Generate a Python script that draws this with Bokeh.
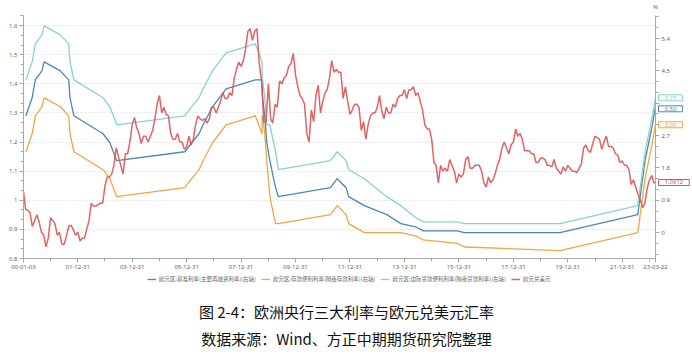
import pandas as pd
from bokeh.plotting import figure
from bokeh.models import (Range1d, LinearAxis, FixedTicker, DatetimeTickFormatter,
                          Legend, LegendItem, Label, BoxAnnotation)
from bokeh.embed import file_html
from bokeh.resources import INLINE

# ---------------- data ----------------
rate_dates = ["2000-02-04", "2000-03-17", "2000-04-28", "2000-06-09", "2000-09-06", "2000-10-06",
              "2001-05-11", "2001-08-31", "2001-09-18", "2001-11-09", "2002-12-06", "2003-03-07",
              "2003-06-06", "2005-12-06", "2006-03-08", "2006-06-15", "2006-08-09", "2006-10-11",
              "2006-12-13", "2007-03-14", "2007-06-13", "2008-07-09", "2008-10-08", "2008-10-09",
              "2008-10-15", "2008-11-12", "2008-12-10", "2009-01-21", "2009-03-11", "2009-04-08",
              "2009-05-13", "2011-04-13", "2011-07-13", "2011-11-09", "2011-12-14", "2012-07-11",
              "2013-05-08", "2013-11-13", "2014-06-11", "2014-09-10", "2015-12-09", "2016-03-16",
              "2019-09-18", "2022-07-27", "2022-09-14", "2022-11-02", "2022-12-21", "2023-02-08",
              "2023-03-22"]
mro = [3.25, 3.50, 3.75, 4.25, 4.50, 4.75, 4.50, 4.25, 3.75, 3.25, 2.75, 2.50, 2.00, 2.25, 2.50,
       2.75, 3.00, 3.25, 3.50, 3.75, 4.00, 4.25, 4.25, 4.25, 3.75, 3.25, 2.50, 2.00, 1.50, 1.25,
       1.00, 1.25, 1.50, 1.25, 1.00, 0.75, 0.50, 0.25, 0.15, 0.05, 0.05, 0.00, 0.00, 0.50, 1.25,
       2.00, 2.50, 3.00, 3.50]
deposit = [2.25, 2.50, 2.75, 3.25, 3.50, 3.75, 3.50, 3.25, 2.75, 2.25, 1.75, 1.50, 1.00, 1.25, 1.50,
           1.75, 2.00, 2.25, 2.50, 2.75, 3.00, 3.25, 2.75, 3.25, 3.25, 2.75, 2.00, 1.00, 0.50, 0.25,
           0.25, 0.50, 0.75, 0.50, 0.25, 0.00, 0.00, 0.00, -0.10, -0.20, -0.30, -0.40, -0.50, 0.00, 0.75,
           1.50, 2.00, 2.50, 3.00]
mlf = [4.25, 4.50, 4.75, 5.25, 5.50, 5.75, 5.50, 5.25, 4.75, 4.25, 3.75, 3.50, 3.00, 3.25, 3.50,
       3.75, 4.00, 4.25, 4.50, 4.75, 5.00, 5.25, 4.75, 4.25, 4.25, 3.75, 3.00, 3.00, 2.50, 2.25,
       1.75, 2.00, 2.25, 2.00, 1.75, 1.50, 1.00, 0.75, 0.40, 0.30, 0.30, 0.25, 0.25, 0.75, 1.50,
       2.25, 2.75, 3.25, 3.75]

# EUR/USD, month-end readings (2000-01 .. 2023-02), plus first and last day
fx_first = ("2000-01-03", 1.03)
fx_last = ("2023-03-22", 1.0612)
fx_monthly = [
    0.970, 0.965, 0.957, 0.910, 0.930, 0.950, 0.925, 0.890, 0.880, 0.840, 0.870, 0.940,   # 2000
    0.930, 0.920, 0.880, 0.890, 0.850, 0.848, 0.875, 0.910, 0.915, 0.900, 0.880, 0.890,   # 2001
    0.860, 0.870, 0.870, 0.900, 0.930, 0.990, 0.980, 0.980, 0.985, 0.990, 0.990, 1.050,   # 2002
    1.080, 1.080, 1.090, 1.120, 1.180, 1.150, 1.120, 1.090, 1.160, 1.160, 1.200, 1.260,   # 2003
    1.285, 1.250, 1.230, 1.195, 1.220, 1.220, 1.200, 1.220, 1.240, 1.280, 1.330, 1.360,   # 2004
    1.300, 1.320, 1.295, 1.290, 1.230, 1.210, 1.210, 1.230, 1.200, 1.200, 1.175, 1.185,   # 2005
    1.220, 1.190, 1.210, 1.260, 1.290, 1.280, 1.275, 1.280, 1.265, 1.280, 1.320, 1.320,   # 2006
    1.300, 1.320, 1.340, 1.370, 1.350, 1.350, 1.370, 1.360, 1.420, 1.450, 1.475, 1.460,   # 2007
    1.480, 1.520, 1.580, 1.590, 1.550, 1.580, 1.590, 1.470, 1.410, 1.270, 1.270, 1.400,   # 2008
    1.280, 1.265, 1.330, 1.320, 1.410, 1.400, 1.420, 1.430, 1.460, 1.470, 1.505, 1.430,   # 2009
    1.390, 1.360, 1.350, 1.330, 1.230, 1.200, 1.310, 1.270, 1.360, 1.395, 1.300, 1.340,   # 2010
    1.370, 1.380, 1.420, 1.480, 1.440, 1.450, 1.440, 1.440, 1.350, 1.390, 1.340, 1.295,   # 2011
    1.310, 1.330, 1.330, 1.320, 1.240, 1.270, 1.210, 1.260, 1.290, 1.300, 1.300, 1.320,   # 2012
    1.360, 1.310, 1.280, 1.320, 1.300, 1.300, 1.330, 1.320, 1.350, 1.360, 1.360, 1.380,   # 2013
    1.350, 1.380, 1.380, 1.390, 1.360, 1.370, 1.340, 1.310, 1.260, 1.245, 1.245, 1.210,   # 2014
    1.130, 1.120, 1.060, 1.120, 1.100, 1.110, 1.100, 1.140, 1.120, 1.100, 1.060, 1.090,   # 2015
    1.080, 1.090, 1.140, 1.150, 1.110, 1.110, 1.120, 1.120, 1.120, 1.100, 1.060, 1.045,   # 2016
    1.080, 1.060, 1.070, 1.090, 1.120, 1.140, 1.180, 1.200, 1.180, 1.160, 1.190, 1.200,   # 2017
    1.245, 1.220, 1.230, 1.210, 1.170, 1.170, 1.170, 1.160, 1.160, 1.130, 1.130, 1.145,   # 2018
    1.145, 1.140, 1.120, 1.120, 1.115, 1.140, 1.110, 1.100, 1.090, 1.115, 1.100, 1.120,   # 2019
    1.110, 1.100, 1.100, 1.095, 1.110, 1.125, 1.180, 1.190, 1.170, 1.165, 1.195, 1.220,   # 2020
    1.215, 1.210, 1.175, 1.200, 1.220, 1.185, 1.185, 1.180, 1.160, 1.155, 1.130, 1.135,   # 2021
    1.120, 1.120, 1.105, 1.055, 1.070, 1.045, 1.020, 1.000, 0.975, 0.990, 1.040, 1.070,   # 2022
    1.085, 1.060,                                                                         # 2023
]

x_tick_dates = ["2000-01-03", "2001-12-31", "2003-12-31", "2005-12-31", "2007-12-31", "2009-12-31",
                "2011-12-31", "2013-12-31", "2015-12-31", "2017-12-31", "2019-12-31", "2021-12-31",
                "2023-03-22"]
x_minor_dates = ["2000-12-31", "2002-12-31", "2004-12-31", "2006-12-31", "2008-12-31", "2010-12-31",
                 "2012-12-31", "2014-12-31", "2016-12-31", "2018-12-31", "2020-12-31", "2022-12-31"]
left_ticks = [0.8, 0.9, 1.0, 1.1, 1.2, 1.3, 1.4, 1.5, 1.6]
right_ticks = [0, 0.9, 1.8, 2.7, 3.6, 4.5, 5.4]

names = ["欧元区:基准利率(主要再融资利率)(右轴)",
         "欧元区:存款便利利率(隔夜存款利率)(右轴)",
         "欧元区:边际贷款便利利率(隔夜贷款利率)(右轴)",
         "欧元兑美元"]
caption1 = "图 2-4：欧洲央行三大利率与欧元兑美元汇率"
caption2 = "数据来源：Wind、方正中期期货研究院整理"

# ---------------- styling / layout ----------------
C_BLUE, C_ORANGE, C_TEAL, C_RED = "#4a88ad", "#f2a544", "#86d3d0", "#de5252"
AX = "#a8a8a8"
TXT = "#666666"
FONT = "Noto Sans"
CJK = "Noto Sans CJK SC"

W, H = 692, 358                 # canvas == frame (axes are drawn inside at fixed locations)
AX_L, AX_R = 23, 655            # canvas x of left / right axis
AX_T, AX_B = 15, 258            # canvas y of axis top / bottom

def ms(d):
    return pd.Timestamp(d).value / 1e6

x0, x1 = ms(x_tick_dates[0]), ms(x_tick_dates[-1])
L0, L1 = 0.8, 1.635
R0, R1 = -0.72, 6.04

ppx = (x1 - x0) / (AX_R - AX_L)
ppl = (L1 - L0) / (AX_B - AX_T)
ppr = (R1 - R0) / (AX_B - AX_T)

def cx(px):      # canvas x -> date (ms)
    return x0 + (px - AX_L) * ppx

def cyl(py):     # canvas y -> left-axis value
    return L1 + (AX_T - py) * ppl

def cyr(py):     # canvas y -> right-axis value
    return R1 + (AX_T - py) * ppr

rd = pd.to_datetime(rate_dates)
fx_dates = ([pd.Timestamp(fx_first[0])]
            + list(pd.date_range("2000-01-31", periods=len(fx_monthly), freq="ME"))
            + [pd.Timestamp(fx_last[0])])
fx_vals = [fx_first[1]] + fx_monthly + [fx_last[1]]

p = figure(frame_width=W, frame_height=H, x_axis_type="datetime", output_backend="svg",
           toolbar_location=None, x_range=Range1d(cx(0), cx(W)), y_range=Range1d(cyl(H), cyl(0)),
           min_border=0)
p.outline_line_color = None
p.background_fill_color = "white"
p.border_fill_color = "white"
p.extra_y_ranges = {"right": Range1d(cyr(H), cyr(0))}

# x axis
xa = p.xaxis[0]
xa.ticker = FixedTicker(ticks=[ms(d) for d in x_tick_dates], minor_ticks=[ms(d) for d in x_minor_dates])
fmt = "%y-%m-%d"
xa.formatter = DatetimeTickFormatter(microseconds=fmt, milliseconds=fmt, seconds=fmt, minsec=fmt,
                                     minutes=fmt, hourmin=fmt, hours=fmt, days=fmt, months=fmt, years=fmt)
xa.fixed_location = L0
xa.bounds = (x0, x1)

# left axis
ya = p.yaxis[0]
left_minor = [round(left_ticks[0] + i * 0.1 / 3, 4) for i in range(0, 26)]
ya.ticker = FixedTicker(ticks=left_ticks, minor_ticks=left_minor)
ya.major_label_overrides = {1.0: "1", 1: "1"}
ya.fixed_location = x0
ya.bounds = (L0, L1)

# right axis, drawn at the last date (its 3.6 label sits under the end-value call-outs)
right_minor = [round(-0.6 + i * 0.3, 2) for i in range(0, 23)]
ra = LinearAxis(y_range_name="right", ticker=FixedTicker(ticks=right_ticks, minor_ticks=right_minor),
                fixed_location=x1, bounds=(R0, R1))
ra.major_label_overrides = {3.6: ""}
p.add_layout(ra, "right")

for ax in [xa, ya, ra]:
    ax.axis_line_color = AX
    ax.major_tick_line_color = AX
    ax.minor_tick_line_color = AX
    ax.major_tick_out = 4
    ax.major_tick_in = 0
    ax.minor_tick_out = 3
    ax.minor_tick_in = 0
    ax.major_label_text_font = FONT
    ax.major_label_text_font_size = "6px"
    ax.major_label_text_color = TXT
    ax.major_label_standoff = 2

p.xgrid.grid_line_color = None
p.ygrid.ticker = FixedTicker(ticks=left_ticks)
p.ygrid.grid_line_color = "#dcdcdc"
p.ygrid.grid_line_dash = "2 2"
p.ygrid.grid_line_width = 0.8
# keep the grid between the two axes only
p.add_layout(BoxAnnotation(right=x0, fill_color="white", fill_alpha=1, line_alpha=0, level="underlay"))
p.add_layout(BoxAnnotation(left=x1, fill_color="white", fill_alpha=1, line_alpha=0, level="underlay"))

r_mro = p.line(rd, mro, color=C_BLUE, line_width=1.3, y_range_name="right")
r_dep = p.line(rd, deposit, color=C_ORANGE, line_width=1.3, y_range_name="right")
r_mlf = p.line(rd, mlf, color=C_TEAL, line_width=1.3, y_range_name="right")
r_fx = p.line(fx_dates, fx_vals, color=C_RED, line_width=1.5, line_alpha=0.9)

legend = Legend(items=[LegendItem(label=names[0], renderers=[r_mro]),
                       LegendItem(label=names[1], renderers=[r_dep]),
                       LegendItem(label=names[2], renderers=[r_mlf]),
                       LegendItem(label=names[3], renderers=[r_fx])],
                orientation="horizontal", location=(147, H - 283))
legend.label_text_font = CJK
legend.label_text_font_size = "5.5px"
legend.label_text_color = TXT
legend.glyph_width = 9
legend.glyph_height = 6
legend.label_standoff = 3
legend.spacing = 5
legend.padding = 0
legend.margin = 0
legend.label_height = 6
legend.border_line_color = None
legend.background_fill_alpha = 0
p.add_layout(legend)

# end value call-outs
def callout(val, txt, color, rng, dy=0):
    kw = dict(x=x1, y=val, text=txt, x_offset=3, y_offset=dy, text_align="left", text_baseline="middle",
              text_color=color, text_font=FONT, text_font_size="6px",
              border_line_color=color, border_line_width=1, background_fill_color="white")
    if rng:
        kw["y_range_name"] = rng
    lab = Label(**kw)
    try:
        lab.padding = (6, 1)
    except Exception:
        pass
    p.add_layout(lab)

callout(mlf[-1], "%.2f" % mlf[-1], C_TEAL, "right")
callout(mro[-1], "%.2f" % mro[-1], C_BLUE, "right", -2)
callout(deposit[-1], "%.2f" % deposit[-1], C_ORANGE, "right")
callout(fx_vals[-1], "%.4f" % fx_vals[-1], C_RED, None)

p.add_layout(Label(x=x1, y=cyr(6), y_range_name="right", text="%", text_align="center",
                   text_baseline="middle", text_font=FONT, text_font_size="6px", text_color=TXT))

# captions below the chart
p.add_layout(Label(x=cx(346), y=cyl(311), text=caption1, text_align="center", text_baseline="middle",
                   text_font=CJK, text_font_size="15px", text_color="#111111"))
p.add_layout(Label(x=cx(346), y=cyl(338), text=caption2, text_align="center", text_baseline="middle",
                   text_font=CJK, text_font_size="15px", text_color="#111111"))

open("out.html", "w").write(file_html(p, INLINE))
